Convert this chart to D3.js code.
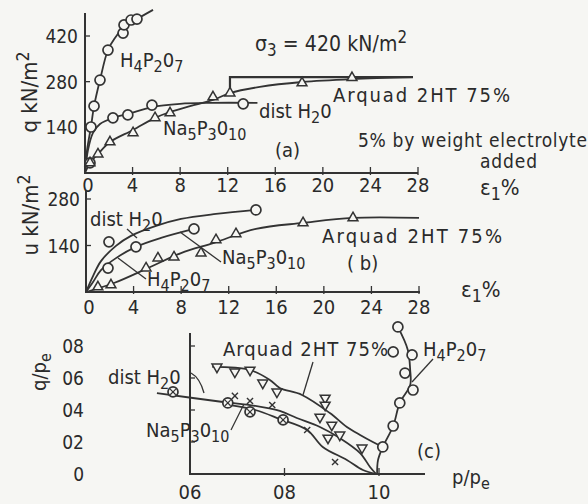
<!DOCTYPE html>
<html>
<head>
<meta charset="utf-8">
<script src="https://cdn.jsdelivr.net/npm/d3@7/dist/d3.min.js"></script>
<style>
body { margin: 0; background: #f6f6f3; }
svg { display: block; }
text { font-family: "DejaVu Sans Condensed", "DejaVu Sans", sans-serif; fill: #2a2a2a; }
</style>
</head>
<body>
<div id="chart"></div>
<script>
// tick values and labels
var strainTicks = [0, 4, 8, 12, 16, 20, 24, 28];
var qTicks = [140, 280, 420];
var uTicks = [140, 280];
var ratioTicks = [0, 0.2, 0.4, 0.6, 0.8];
var ratioTickLabels = ["0", "02", "04", "06", "08"];
var pTicks = [0.6, 0.8, 1.0];
var pTickLabels = ["06", "08", "10"];

// (a) deviator stress q vs strain
var aH4Strain = [0, 0.17, 0.5, 0.76, 1.26, 1.93, 2.52, 3.28, 4.37, 5.72];
var aH4Q = [0, 70, 141, 205, 285, 377, 414, 448, 472, 500];
var aH4PtStrain = [0.5, 0.76, 1.26, 1.93, 3.2, 3.28, 3.87, 4.37];
var aH4PtQ = [141, 205, 285, 377, 429, 454, 469, 472];

var aWaterStrain = [0, 0.25, 0.67, 1.26, 2.35, 3.6, 5.63, 7.99, 10.5, 14.5];
var aWaterQ = [0, 70, 123, 150, 169, 181, 202, 212, 215, 215];
var aWaterPtStrain = [0.42, 2.35, 3.6, 5.63, 13.3];
var aWaterPtQ = [31, 169, 178, 208, 212];

var aArqStrain = [0, 0.42, 1.09, 2.1, 4.04, 5.89, 7.15, 8.83, 10.76, 12.19, 14.7, 18.25, 22.45, 27.58];
var aArqQ = [0, 31, 58, 95, 132, 169, 187, 205, 224, 245, 264, 279, 288, 294];
var aNaPtStrain = [0.42, 1.09, 2.1, 4.04, 5.89, 7.15];
var aNaPtQ = [31, 58, 95, 123, 169, 184];
var aArqPtStrain = [10.76, 12.19, 18.25, 22.45];
var aArqPtQ = [233, 245, 276, 292];
var aStepStrain = [12.19, 12.19, 27.58];
var aStepQ = [245, 294, 294];

// (b) pore pressure u vs strain
var bWaterStrain = [0, 0.59, 1.26, 2.52, 3.78, 5.89, 7.99, 10.93, 14.29];
var bWaterU = [0, 48, 93, 139, 169, 199, 220, 235, 247];
var bWaterPtStrain = [1.93, 14.29];
var bWaterPtU = [151, 247];

var bH4Strain = [0, 0.59, 1.26, 2.52, 4.2, 6.31, 9.08];
var bH4U = [0, 30, 66, 102, 136, 163, 190];
var bH4PtStrain = [1.85, 4.2, 9.08];
var bH4PtU = [72, 136, 190];

var bArqStrain = [0, 2.35, 5.21, 7.99, 10.76, 14.29, 18.25, 22.45, 28];
var bArqU = [0, 27, 72, 117, 148, 190, 208, 223, 223];
var bTriStrain = [1.0, 2.1, 5.05, 6.05, 7.4, 9.67, 10.93, 12.61, 18.25, 22.45];
var bTriU = [15, 21, 72, 102, 105, 117, 157, 175, 208, 223];

// (c) q/pe vs p/pe
var cArqP = [0.647, 0.727, 0.769, 0.790, 0.837, 0.896, 0.932, 0.960, 0.987, 1.008];
var cArqV = [0.669, 0.65, 0.588, 0.538, 0.494, 0.381, 0.294, 0.244, 0.2, 0.169];
var cArqPtP = [0.657, 0.695, 0.727, 0.754, 0.784, 0.886, 0.886, 0.875, 0.900, 0.917, 0.892, 0.964];
var cArqPtV = [0.669, 0.638, 0.65, 0.569, 0.513, 0.475, 0.431, 0.356, 0.306, 0.244, 0.225, 0.163];

var cWaterP = [0.530, 0.670, 0.727, 0.790, 0.826, 0.875, 0.917, 0.960, 0.981, 0.994];
var cWaterV = [0.506, 0.45, 0.431, 0.394, 0.35, 0.294, 0.225, 0.131, 0.044, 0];
var cWaterPtP = [0.564, 0.680, 0.727, 0.797];
var cWaterPtV = [0.513, 0.444, 0.388, 0.338];

var cNaP = [0.685, 0.738, 0.790, 0.848, 0.881, 0.932, 0.966, 0.994];
var cNaV = [0.431, 0.40, 0.344, 0.275, 0.169, 0.088, 0.025, 0];
var cNaPtP = [0.695, 0.727, 0.774, 0.848, 0.907];
var cNaPtV = [0.488, 0.456, 0.431, 0.275, 0.075];

var cH4P = [0.996, 0.998, 1.008, 1.030, 1.044, 1.066, 1.066, 1.061, 1.040];
var cH4V = [0, 0.088, 0.169, 0.30, 0.444, 0.556, 0.65, 0.775, 0.919];
var cH4PtP = [1.008, 1.030, 1.044, 1.072, 1.055, 1.070, 1.030, 1.040];
var cH4PtV = [0.169, 0.30, 0.444, 0.525, 0.631, 0.744, 0.763, 0.919];

var ink = "#333";
var paper = "#f6f6f3";

var svg = d3.select("#chart").append("svg")
    .attr("width", 588)
    .attr("height", 504);

// scales
var xA = d3.scaleLinear().domain([0, 28]).range([85, 418]);
var yA = d3.scaleLinear().domain([0, 420]).range([173, 36]);
var xB = d3.scaleLinear().domain([0, 28]).range([86, 419]);
var yB = d3.scaleLinear().domain([0, 280]).range([292, 199]);
var xC = d3.scaleLinear().domain([0.6, 1.0]).range([190, 379]);
var yC = d3.scaleLinear().domain([0, 0.8]).range([474, 346]);

function zip(a, b) {
    return a.map(function(d, i) { return [d, b[i]]; });
}

function curve(x, y, xs, ys, w) {
    var line = d3.line()
        .x(function(d) { return x(d[0]); })
        .y(function(d) { return y(d[1]); })
        .curve(d3.curveCatmullRom.alpha(0.5));
    svg.append("path")
        .attr("d", line(zip(xs, ys)))
        .attr("fill", "none")
        .attr("stroke", ink)
        .attr("stroke-width", w || 1.8);
}

function polyline(x, y, xs, ys, w) {
    var line = d3.line()
        .x(function(d) { return x(d[0]); })
        .y(function(d) { return y(d[1]); });
    svg.append("path")
        .attr("d", line(zip(xs, ys)))
        .attr("fill", "none")
        .attr("stroke", ink)
        .attr("stroke-width", w || 2);
}

function marks(x, y, xs, ys, kind, flip) {
    var pts = zip(xs, ys);
    var g = svg.append("g");
    if (kind == "circle" || kind == "crossed") {
        g.selectAll("circle").data(pts).enter().append("circle")
            .attr("cx", function(d) { return x(d[0]); })
            .attr("cy", function(d) { return y(d[1]); })
            .attr("r", 5)
            .attr("fill", paper)
            .attr("stroke", ink)
            .attr("stroke-width", 1.7);
        if (kind == "crossed") {
            g.selectAll("path").data(pts).enter().append("path")
                .attr("d", d3.symbol(d3.symbolX, 22)())
                .attr("transform", function(d) { return "translate(" + x(d[0]) + "," + y(d[1]) + ")"; })
                .attr("stroke", ink).attr("stroke-width", 1.2).attr("fill", "none");
        }
    } else if (kind == "triangle") {
        g.selectAll("path").data(pts).enter().append("path")
            .attr("d", d3.symbol(d3.symbolTriangle, 42)())
            .attr("transform", function(d) {
                return "translate(" + x(d[0]) + "," + y(d[1]) + ")" + (flip ? " rotate(180)" : "");
            })
            .attr("fill", paper)
            .attr("stroke", ink)
            .attr("stroke-width", 1.5);
    } else {
        g.selectAll("path").data(pts).enter().append("path")
            .attr("d", d3.symbol(d3.symbolX, 26)())
            .attr("transform", function(d) { return "translate(" + x(d[0]) + "," + y(d[1]) + ")"; })
            .attr("stroke", ink).attr("stroke-width", 1.4).attr("fill", "none");
    }
}

// text with sub/superscripts: parts = [[text, "sub"|"sup"|null], ...]
function label(x, y, parts, size, len, rotate) {
    var t = svg.append("text")
        .attr("x", x).attr("y", y)
        .attr("font-size", size || 18);
    if (rotate) t.attr("transform", "rotate(-90," + x + "," + y + ")");
    var shift = 0;
    parts.forEach(function(p) {
        var s = p[1] == "sub" ? 5 : p[1] == "sup" ? -8 : 0;
        var ts = t.append("tspan").text(p[0]).attr("dy", s - shift);
        if (p[1]) ts.attr("font-size", (size || 18) * 0.8);
        shift = s;
    });
    if (len) t.attr("textLength", len).attr("lengthAdjust", "spacing");
    return t;
}

function leader(x1, y1, x2, y2) {
    svg.append("line")
        .attr("x1", x1).attr("y1", y1).attr("x2", x2).attr("y2", y2)
        .attr("stroke", ink).attr("stroke-width", 1.3);
}

function axes(x, y, xTicks, xLabels, yTicks, yLabels, xEnd, yTop, xLabY, yLabX) {
    var x0 = x.range()[0], y0 = y.range()[0];
    svg.append("line").attr("x1", x0).attr("y1", y0).attr("x2", xEnd).attr("y2", y0)
        .attr("stroke", ink).attr("stroke-width", 2);
    svg.append("line").attr("x1", x0).attr("y1", y0 + 1).attr("x2", x0).attr("y2", yTop)
        .attr("stroke", ink).attr("stroke-width", 2);
    xTicks.forEach(function(v, i) {
        if (x(v) > x0 + 2) {
            svg.append("line").attr("x1", x(v)).attr("x2", x(v))
                .attr("y1", y0 - 6).attr("y2", y0 + 2)
                .attr("stroke", ink).attr("stroke-width", 1.3);
        }
        svg.append("text").attr("x", x(v) + (i == 0 && xLabels[0] == "0" ? 3 : 0)).attr("y", xLabY)
            .attr("text-anchor", "middle").attr("font-size", 20).text(xLabels[i]);
    });
    yTicks.forEach(function(v, i) {
        if (y(v) < y0 - 2) {
            svg.append("line").attr("x1", x0).attr("x2", x0 + 5)
                .attr("y1", y(v)).attr("y2", y(v))
                .attr("stroke", ink).attr("stroke-width", 1.3);
        }
        svg.append("text").attr("x", yLabX).attr("y", y(v) + 7)
            .attr("text-anchor", "end").attr("font-size", 19).text(yLabels[i]);
    });
}

// ---------- panel (a)
axes(xA, yA, strainTicks, strainTicks.map(String), qTicks, qTicks.map(String), 418, 13, 192, 78);
curve(xA, yA, aH4Strain, aH4Q);
curve(xA, yA, aWaterStrain, aWaterQ);
curve(xA, yA, aArqStrain, aArqQ);
polyline(xA, yA, aStepStrain, aStepQ, 2.2);
marks(xA, yA, aH4PtStrain, aH4PtQ, "circle");
marks(xA, yA, aWaterPtStrain, aWaterPtQ, "circle");
marks(xA, yA, aNaPtStrain, aNaPtQ, "triangle");
marks(xA, yA, aArqPtStrain, aArqPtQ, "triangle");

label(37, 92, [["q kN/m", null], ["2", "sup"]], 22, null, true).attr("text-anchor", "middle");
label(120, 67, [["H", null], ["4", "sub"], ["P", null], ["2", "sub"], ["0", null], ["7", "sub"]], 20);
label(255, 51, [["σ", null], ["3", "sub"], [" = 420 kN/m", null], ["2", "sup"]], 21, 152);
label(333, 102, [["Arquad  2HT 75%", null]], 20, 177);
label(259, 118, [["dist  H", null], ["2", "sub"], ["0", null]], 20);
label(163, 135, [["Na", null], ["5", "sub"], ["P", null], ["3", "sub"], ["0", null], ["10", "sub"]], 20);
label(275, 157, [["(a)", null]], 20);
label(358, 147, [["5% by weight electrolyte", null]], 19, 229);
label(480, 168, [["added", null]], 19, 57);
label(480, 195, [["ε", null], ["1", "sub"], ["%", null]], 22);

// ---------- panel (b)
axes(xB, yB, strainTicks, strainTicks.map(String), uTicks, uTicks.map(String), 420, 190, 314, 80);
curve(xB, yB, bWaterStrain, bWaterU);
curve(xB, yB, bH4Strain, bH4U);
curve(xB, yB, bArqStrain, bArqU);
marks(xB, yB, bWaterPtStrain, bWaterPtU, "circle");
marks(xB, yB, bH4PtStrain, bH4PtU, "circle");
marks(xB, yB, bTriStrain, bTriU, "triangle");

label(38, 215, [["u kN/m", null], ["2", "sup"]], 22, null, true).attr("text-anchor", "middle");
label(90, 226, [["dist H", null], ["2", "sub"], ["0", null]], 20);
leader(127, 229, 137, 238);
label(222, 264, [["Na", null], ["5", "sub"], ["P", null], ["3", "sub"], ["0", null], ["10", "sub"]], 20);
leader(221, 262, 180, 232);
label(147, 286, [["H", null], ["4", "sub"], ["P", null], ["2", "sub"], ["0", null], ["7", "sub"]], 20);
leader(146, 279, 118, 258);
label(322, 243, [["Arquad  2HT 75%", null]], 20, 180);
label(347, 270, [["( b)", null]], 20);
label(461, 297, [["ε", null], ["1", "sub"], ["%", null]], 22);

// ---------- panel (c)
axes(xC, yC, pTicks, pTickLabels, ratioTicks, ratioTickLabels, 425, 333, 499, 84);
curve(xC, yC, cArqP, cArqV);
curve(xC, yC, cWaterP, cWaterV);
curve(xC, yC, cNaP, cNaV);
curve(xC, yC, cH4P, cH4V);
marks(xC, yC, cArqPtP, cArqPtV, "triangle", true);
marks(xC, yC, cWaterPtP, cWaterPtV, "crossed");
marks(xC, yC, cNaPtP, cNaPtV, "x");
marks(xC, yC, cH4PtP, cH4PtV, "circle");

label(46, 372, [["q/p", null], ["e", "sub"]], 20, null, true).attr("text-anchor", "middle");
label(108, 384, [["dist H", null], ["2", "sub"], ["0", null]], 20);
svg.append("path").attr("d", "M191,373 Q200,378 204,393")
    .attr("fill", "none").attr("stroke", ink).attr("stroke-width", 1.3);
label(146, 437, [["Na", null], ["5", "sub"], ["P", null], ["3", "sub"], ["0", null], ["10", "sub"]], 20);
leader(231, 430, 244, 404);
label(223, 356, [["Arquad 2HT 75%", null]], 20, 165);
leader(313, 362, 303, 395);
label(423, 356, [["H", null], ["4", "sub"], ["P", null], ["2", "sub"], ["0", null], ["7", "sub"]], 20);
leader(433, 359, 412, 382);
label(417, 458, [["(c)", null]], 20);
label(452, 484, [["p/p", null], ["e", "sub"]], 20);
</script>
</body>
</html>
